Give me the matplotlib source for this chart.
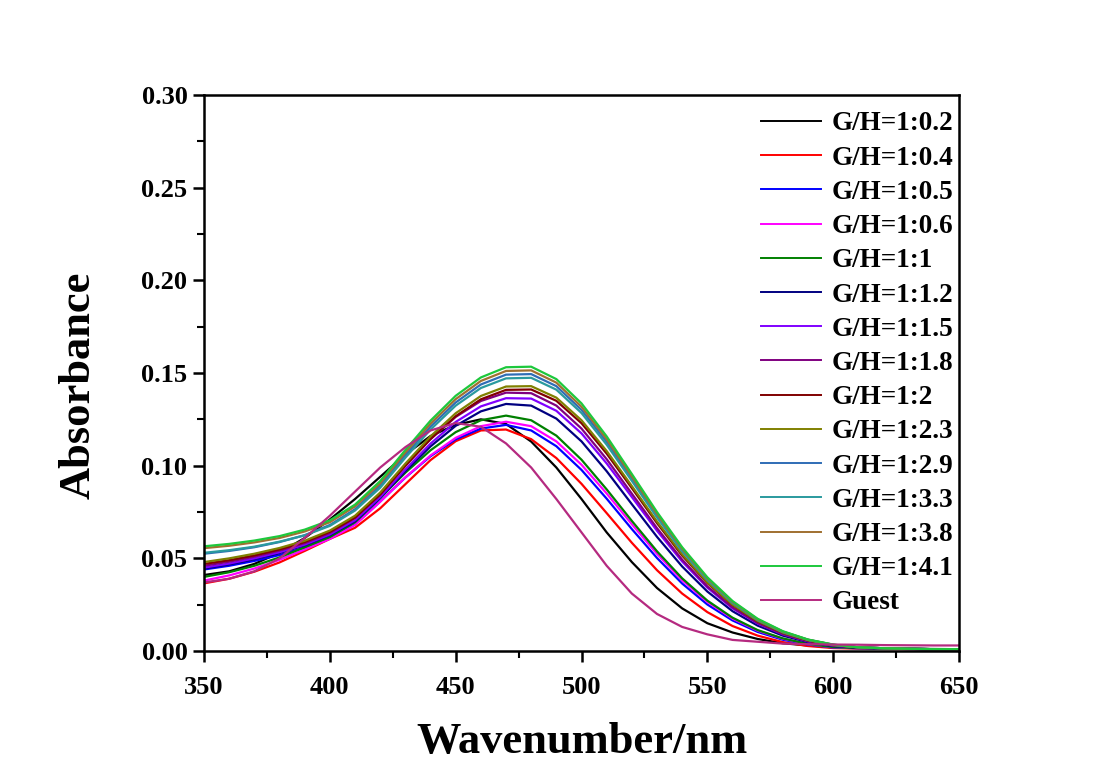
import numpy as np
import matplotlib.pyplot as plt
from matplotlib.ticker import MultipleLocator

plt.rcParams['font.family'] = ['Liberation Serif', 'DejaVu Serif']
plt.rcParams['font.weight'] = 'bold'

# wavelength grid (nm)
wl = np.arange(350, 651, 10)

# absorbance, one list per ratio
gh_02 = [0.041, 0.043, 0.047, 0.053, 0.061, 0.071, 0.082, 0.094, 0.106, 0.116, 0.122, 0.125, 0.1225, 0.1130, 0.0990, 0.0820,
         0.0640, 0.0480, 0.0340, 0.0230, 0.0150, 0.0100, 0.0065, 0.0042, 0.0030, 0.0022, 0.0017, 0.0014, 0.0012, 0.0011, 0.0010]
gh_04 = [0.0365, 0.0390, 0.0428, 0.0478, 0.0540, 0.0605, 0.0665, 0.0770, 0.0900, 0.1030, 0.1132, 0.1190, 0.1195, 0.1143, 0.1041, 0.0902,
         0.0744, 0.0584, 0.0436, 0.0310, 0.0210, 0.0135, 0.0083, 0.0048, 0.0027, 0.0016, 0.0013, 0.0011, 0.0010, 0.0010, 0.0010]
gh_05 = [0.0440, 0.0460, 0.0486, 0.0518, 0.0558, 0.0608, 0.0683, 0.0807, 0.0936, 0.1051, 0.1142, 0.1200, 0.1220, 0.1190, 0.1105, 0.0977,
         0.0822, 0.0658, 0.0502, 0.0364, 0.0251, 0.0165, 0.0103, 0.0061, 0.0035, 0.0019, 0.0015, 0.0013, 0.0011, 0.0010, 0.0010]
gh_06 = [0.0380, 0.0408, 0.0445, 0.0492, 0.0548, 0.0605, 0.0680, 0.0805, 0.0937, 0.1055, 0.1150, 0.1213, 0.1237, 0.1213, 0.1131, 0.1005,
         0.0850, 0.0684, 0.0524, 0.0382, 0.0265, 0.0175, 0.0110, 0.0066, 0.0037, 0.0020, 0.0016, 0.0013, 0.0011, 0.0010, 0.0010]
gh_1 = [0.0400, 0.0425, 0.0460, 0.0505, 0.0560, 0.0615, 0.0695, 0.0826, 0.0962, 0.1083, 0.1181, 0.1245, 0.1270, 0.1245, 0.1162, 0.1032,
        0.0872, 0.0702, 0.0538, 0.0392, 0.0272, 0.0180, 0.0113, 0.0068, 0.0038, 0.0021, 0.0016, 0.0013, 0.0011, 0.0010, 0.0010]
gh_12 = [0.0445, 0.0467, 0.0495, 0.0529, 0.0570, 0.0625, 0.0700, 0.0825, 0.0970, 0.1104, 0.1215, 0.1293, 0.1333, 0.1324, 0.1254, 0.1131,
         0.0970, 0.0792, 0.0616, 0.0456, 0.0321, 0.0215, 0.0137, 0.0083, 0.0048, 0.0026, 0.0018, 0.0014, 0.0012, 0.0010, 0.0010]
gh_15 = [0.0450, 0.0472, 0.0500, 0.0533, 0.0574, 0.0629, 0.0706, 0.0831, 0.0980, 0.1119, 0.1236, 0.1320, 0.1364, 0.1362, 0.1296, 0.1174,
         0.1012, 0.0831, 0.0649, 0.0483, 0.0342, 0.0230, 0.0148, 0.0090, 0.0052, 0.0029, 0.0020, 0.0015, 0.0012, 0.0010, 0.0010]
gh_18 = [0.0460, 0.0482, 0.0509, 0.0542, 0.0582, 0.0637, 0.0718, 0.0849, 0.1002, 0.1143, 0.1263, 0.1349, 0.1394, 0.1391, 0.1324, 0.1200,
         0.1035, 0.0849, 0.0663, 0.0493, 0.0349, 0.0235, 0.0151, 0.0092, 0.0053, 0.0030, 0.0020, 0.0015, 0.0012, 0.0010, 0.0010]
gh_2 = [0.0470, 0.0490, 0.0516, 0.0548, 0.0588, 0.0643, 0.0720, 0.0844, 0.0999, 0.1144, 0.1267, 0.1358, 0.1409, 0.1411, 0.1350, 0.1229,
        0.1065, 0.0879, 0.0690, 0.0515, 0.0367, 0.0248, 0.0160, 0.0098, 0.0057, 0.0032, 0.0020, 0.0015, 0.0012, 0.0010, 0.0010]
gh_23 = [0.0480, 0.0500, 0.0525, 0.0556, 0.0595, 0.0650, 0.0730, 0.0855, 0.1011, 0.1158, 0.1283, 0.1376, 0.1427, 0.1429, 0.1367, 0.1245,
         0.1079, 0.0890, 0.0699, 0.0522, 0.0371, 0.0251, 0.0162, 0.0099, 0.0058, 0.0032, 0.0020, 0.0015, 0.0012, 0.0010, 0.0010]
gh_29 = [0.0525, 0.0540, 0.0560, 0.0588, 0.0625, 0.0680, 0.0765, 0.0893, 0.1057, 0.1211, 0.1341, 0.1438, 0.1491, 0.1494, 0.1429, 0.1301,
         0.1128, 0.0930, 0.0730, 0.0546, 0.0388, 0.0263, 0.0169, 0.0104, 0.0061, 0.0034, 0.0020, 0.0015, 0.0012, 0.0010, 0.0010]
gh_33 = [0.0530, 0.0544, 0.0563, 0.0590, 0.0624, 0.0675, 0.0758, 0.0881, 0.1043, 0.1195, 0.1324, 0.1419, 0.1471, 0.1474, 0.1410, 0.1284,
         0.1113, 0.0918, 0.0720, 0.0538, 0.0383, 0.0259, 0.0167, 0.0102, 0.0060, 0.0033, 0.0020, 0.0015, 0.0012, 0.0010, 0.0010]
gh_38 = [0.0555, 0.0568, 0.0586, 0.0610, 0.0645, 0.0695, 0.0780, 0.0905, 0.1071, 0.1227, 0.1359, 0.1457, 0.1511, 0.1514, 0.1448, 0.1318,
         0.1143, 0.0942, 0.0740, 0.0553, 0.0393, 0.0266, 0.0171, 0.0105, 0.0061, 0.0034, 0.0020, 0.0015, 0.0012, 0.0010, 0.0010]
gh_41 = [0.0565, 0.0578, 0.0596, 0.0620, 0.0655, 0.0705, 0.0790, 0.0917, 0.1085, 0.1243, 0.1377, 0.1476, 0.1531, 0.1534, 0.1467, 0.1336,
         0.1158, 0.0955, 0.0750, 0.0560, 0.0398, 0.0270, 0.0174, 0.0107, 0.0062, 0.0035, 0.0020, 0.0015, 0.0012, 0.0010, 0.0010]
guest = [0.037, 0.039, 0.043, 0.050, 0.061, 0.073, 0.086, 0.099, 0.110, 0.119, 0.123, 0.121, 0.112, 0.099, 0.082, 0.064,
         0.046, 0.031, 0.020, 0.013, 0.009, 0.006, 0.005, 0.004, 0.0037, 0.0035, 0.0034, 0.0032, 0.0031, 0.0030, 0.0030]

labels = ['G/H=1:0.2', 'G/H=1:0.4', 'G/H=1:0.5', 'G/H=1:0.6', 'G/H=1:1', 'G/H=1:1.2', 'G/H=1:1.5', 'G/H=1:1.8',
          'G/H=1:2', 'G/H=1:2.3', 'G/H=1:2.9', 'G/H=1:3.3', 'G/H=1:3.8', 'G/H=1:4.1', 'Guest']
series = [gh_02, gh_04, gh_05, gh_06, gh_1, gh_12, gh_15, gh_18, gh_2, gh_23, gh_29, gh_33, gh_38, gh_41, guest]
colors = ['#000000', '#FF0000', '#0000FF', '#FF00FF', '#008000', '#000080', '#8000FF', '#800080',
          '#800000', '#808000', '#2F6DB5', '#2A9A9E', '#A07030', '#1DC83C', '#B52A80']

fig = plt.figure(figsize=(11, 7.72), dpi=100)
ax = fig.add_axes([0.1855, 0.1567, 0.6863, 0.7203])

for y, lab, c in zip(series, labels, colors):
    ax.plot(wl, y, color=c, lw=1.6, label=lab, solid_joinstyle='round')

ax.set_xlim(350, 650)
ax.set_ylim(0, 0.30)
ax.xaxis.set_major_locator(MultipleLocator(50))
ax.xaxis.set_minor_locator(MultipleLocator(25))
ax.yaxis.set_major_locator(MultipleLocator(0.05))
ax.yaxis.set_minor_locator(MultipleLocator(0.025))
ax.yaxis.set_major_formatter(plt.FormatStrFormatter('%.2f'))
ax.tick_params(which='major', direction='out', length=8, width=1.8, labelsize=19)
ax.tick_params(axis='x', which='major', pad=10)
ax.tick_params(axis='y', which='major', pad=4)
ax.tick_params(which='minor', direction='out', length=5, width=1.5)
for s in ax.spines.values():
    s.set_linewidth(1.8)

ax.set_xlabel('Wavenumber/nm', fontsize=32, fontweight='bold')
ax.set_ylabel('Absorbance', fontsize=32, fontweight='bold')
ax.xaxis.set_label_coords(0.5, -0.128)
ax.yaxis.set_label_coords(-0.14, 0.478)

leg = ax.legend(loc='upper right', bbox_to_anchor=(1.0, 0.98), frameon=False, fontsize=19.5,
                handlelength=2.2, handletextpad=0.4, labelspacing=0.34, borderaxespad=0.0, borderpad=0.2)
for h in leg.get_lines():
    h.set_linewidth(1.4)

fig.savefig('out.png', dpi=100, facecolor='white')
